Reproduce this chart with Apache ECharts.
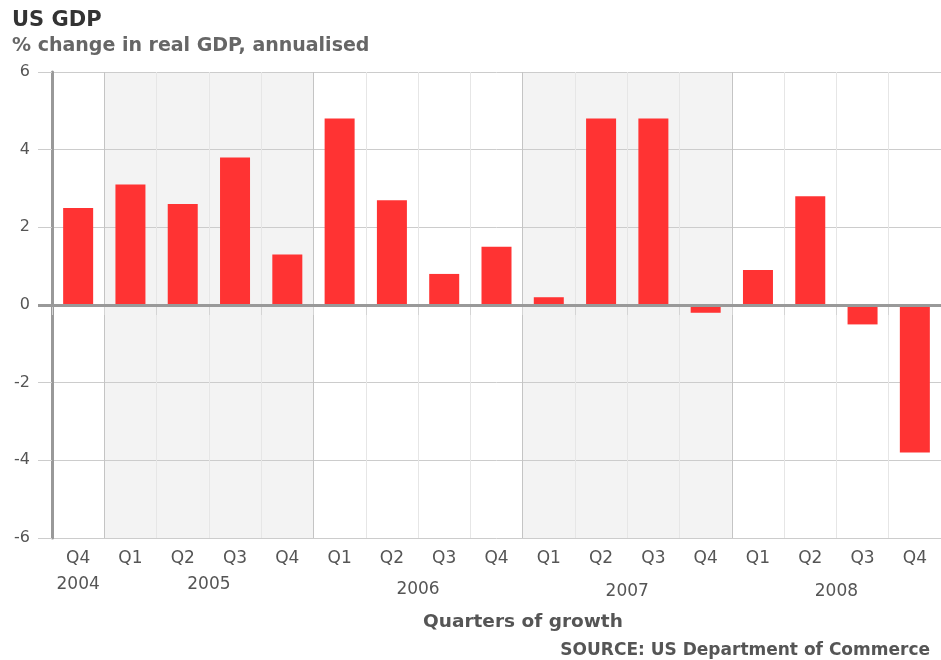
<!DOCTYPE html>
<html>
<head>
<meta charset="utf-8">
<script src="https://cdn.jsdelivr.net/npm/echarts@6/dist/echarts.min.js"></script>
<style>
  html, body { margin: 0; padding: 0; background: #fff; }
  #main { width: 941px; height: 660px; }
</style>
</head>
<body>
<div id="main"></div>
<script>
const quarters = ['Q4', 'Q1', 'Q2', 'Q3', 'Q4', 'Q1', 'Q2', 'Q3', 'Q4', 'Q1', 'Q2', 'Q3', 'Q4', 'Q1', 'Q2', 'Q3', 'Q4'];
const quarterYears = [2004, 2005, 2005, 2005, 2005, 2006, 2006, 2006, 2006, 2007, 2007, 2007, 2007, 2008, 2008, 2008, 2008];
const gdpGrowth = [2.5, 3.1, 2.6, 3.8, 1.3, 4.8, 2.7, 0.8, 1.5, 0.2, 4.8, 4.8, -0.2, 0.9, 2.8, -0.5, -3.8];
const shadedYears = [2005, 2007];
const yTicks = [-6, -4, -2, 0, 2, 4, 6];

const FONT = 'DejaVu Sans';
const categories = quarters.map((q, i) => quarterYears[i] + ' ' + q);

// one label per year, centred under that year's quarters
const years = [...new Set(quarterYears)];
const yearCentres = years.map(y => {
  const first = quarterYears.indexOf(y), last = quarterYears.lastIndexOf(y);
  return (first + last + 1) / 2;
});
const yearStyle = ['y0', 'y0', 'y1', 'y2', 'y2'];

const shadeUp = quarterYears.map(y => shadedYears.includes(y) ? yTicks[yTicks.length - 1] : null);
const shadeDown = quarterYears.map(y => shadedYears.includes(y) ? yTicks[0] : null);

// vertical lines: darker at the start of each year, first one sits on the y axis
const splitColours = quarterYears.map((y, i) => i === 0 ? '#999999' : (y !== quarterYears[i - 1] ? '#c4c4c4' : '#e6e6e6'));
splitColours.push('#e6e6e6');

const chart = echarts.init(document.getElementById('main'));

chart.setOption({
  backgroundColor: '#fff',
  animation: false,
  title: [
    { text: 'US GDP', left: 12, top: 10, padding: 0,
      textStyle: { fontFamily: FONT, fontSize: 21, fontWeight: 'bold', color: '#333' } },
    { text: '% change in real GDP, annualised', left: 12, top: 37, padding: 0,
      textStyle: { fontFamily: FONT, fontSize: 19, fontWeight: 'bold', color: '#666' } },
    { text: 'Quarters of growth', left: 423, top: 613, padding: 0,
      textStyle: { fontFamily: FONT, fontSize: 18.5, fontWeight: 'bold', color: '#555' } },
    { text: 'SOURCE: US Department of Commerce', right: 11, top: 642, padding: 0,
      textStyle: { fontFamily: FONT, fontSize: 17, fontWeight: 'bold', color: '#555' } }
  ],
  grid: { left: 52, right: 0, top: 72, bottom: 122 },
  xAxis: [
    {
      type: 'category',
      data: categories,
      position: 'bottom',
      axisLine: { show: false },
      axisTick: { show: true, length: 10, interval: 0, lineStyle: { color: '#d4d4d4' } },
      axisLabel: {
        interval: 0, margin: 12, color: '#555', fontFamily: FONT, fontSize: 17,
        formatter: v => v.split(' ')[1]
      },
      splitLine: { show: true, interval: 0, lineStyle: { color: splitColours, width: 1 } }
    },
    {
      type: 'value',
      min: 0, max: quarters.length,
      position: 'bottom',
      axisLine: { show: false },
      axisTick: { show: false },
      splitLine: { show: false },
      axisLabel: {
        customValues: yearCentres,
        margin: 38,
        color: '#555', fontFamily: FONT, fontSize: 17,
        formatter: v => {
          const i = yearCentres.indexOf(v);
          return '{' + yearStyle[i] + '|' + years[i] + '}';
        },
        rich: {
          y0: { color: '#555', fontFamily: FONT, fontSize: 17, padding: [0, 0, 0, 0] },
          y1: { color: '#555', fontFamily: FONT, fontSize: 17, padding: [5, 0, 0, 0] },
          y2: { color: '#555', fontFamily: FONT, fontSize: 17, padding: [7, 0, 0, 0] }
        }
      }
    },
    {
      type: 'category',
      data: categories,
      show: false
    }
  ],
  yAxis: [
    {
      type: 'value',
      min: -6, max: 6, interval: 2,
      axisLine: { show: true, onZero: false, lineStyle: { color: '#999999', width: 3 } },
      axisTick: { show: true, length: 14, lineStyle: { color: '#cccccc' } },
      axisLabel: { margin: 22, color: '#555', fontFamily: FONT, fontSize: 16 },
      splitLine: { show: true, lineStyle: { color: '#cccccc', width: 1 } }
    },
    {
      type: 'value',
      position: 'left',
      min: -6, max: 6,
      axisLine: { show: false, onZero: false },
      axisLabel: { show: false },
      splitLine: { show: false },
      axisTick: { show: true, customValues: [0], length: 14, lineStyle: { color: '#999999', width: 3 } }
    }
  ],
  series: [
    {
      name: 'shadeUp', type: 'bar', xAxisIndex: 2, yAxisIndex: 0, stack: 'shade',
      data: shadeUp, barWidth: '100%', silent: true, z: -1,
      itemStyle: { color: '#f3f3f3' }
    },
    {
      name: 'shadeDown', type: 'bar', xAxisIndex: 2, yAxisIndex: 0, stack: 'shade',
      data: shadeDown, barWidth: '100%', silent: true, z: -1,
      itemStyle: { color: '#f3f3f3' }
    },
    {
      name: 'GDP', type: 'bar', xAxisIndex: 0, yAxisIndex: 0,
      data: gdpGrowth, barWidth: 30,
      itemStyle: { color: '#ff3333' },
      markLine: {
        silent: true, symbol: 'none', label: { show: false },
        lineStyle: { color: '#999999', width: 3, type: 'solid' },
        data: [{ yAxis: 0 }]
      }
    }
  ]
});
</script>
</body>
</html>
